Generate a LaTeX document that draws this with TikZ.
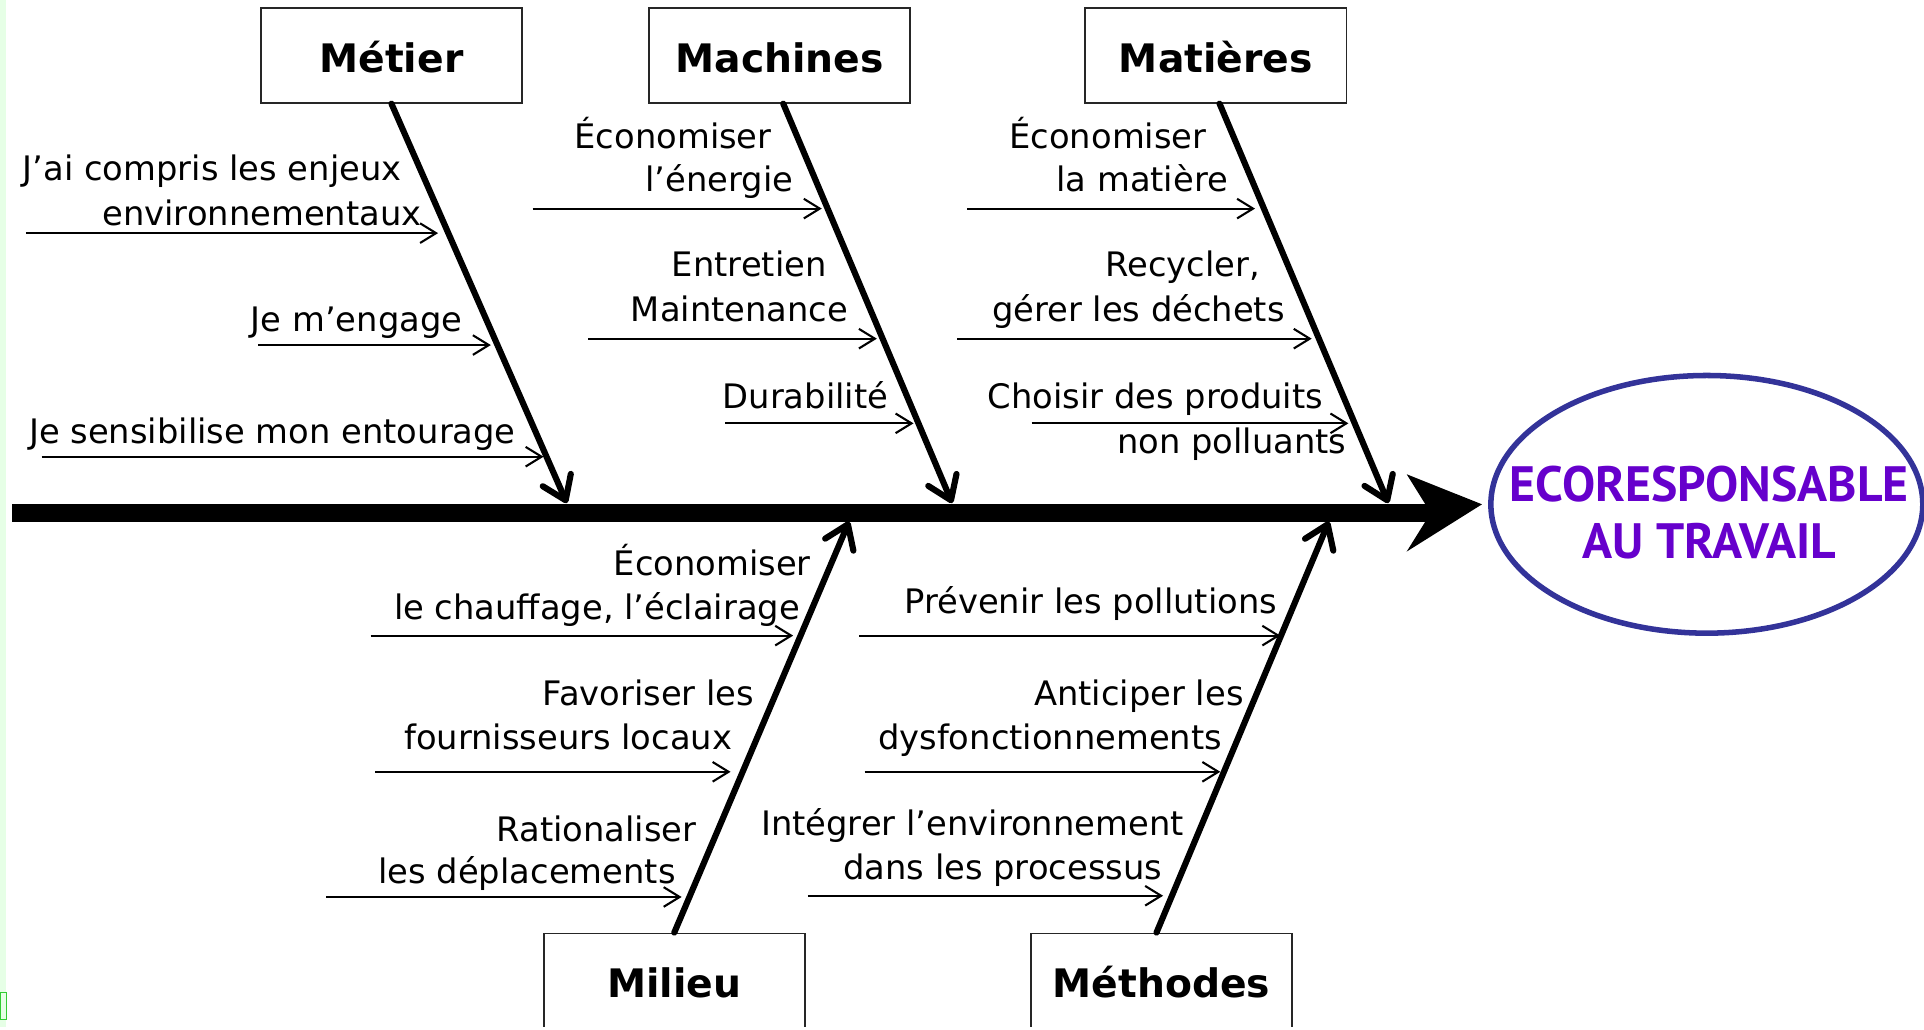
\documentclass[tikz,border=0pt]{standalone}
\usepackage{fontspec}
\setmainfont{DejaVu Sans}
\newfontfamily\ptsans{PT Sans}
\usetikzlibrary{arrows.meta,shapes.geometric}
\definecolor{ellblue}{HTML}{333399}
\definecolor{ecopurple}{HTML}{6600CC}
\definecolor{stripgreen}{HTML}{E6FFE6}
\definecolor{markgreen}{HTML}{33CC33}
\begin{document}
\begin{tikzpicture}[x=1pt,y=-1pt,
  lbl/.style={anchor=base east, inner sep=0pt, font=\fontsize{27.5}{33}\selectfont},
  catbox/.style={draw=black!85, line width=1.5pt, minimum width=213pt, minimum height=77pt,
    inner sep=0pt, text height=28pt, text depth=0pt, font=\fontsize{32}{38}\selectfont\bfseries},
  bone/.style={line width=5pt, line cap=round, -{Straight Barb[length=18pt,width=25pt,round]}},
  sub/.style={line width=1.7pt, -{Straight Barb[length=13pt,width=16pt]}},
  ecotext/.style={anchor=base, inner sep=0pt, text=ecopurple, font=\fontsize{40.5}{47}\ptsans\bfseries}]
\useasboundingbox (0,0) rectangle (1568,838.6);
\clip (0,0) rectangle (1568,836.5);
% left margin strip
\fill[stripgreen] (0,0) rectangle (5,838.6);
\draw[markgreen, line width=1pt] (0.5,809) rectangle (5,831);

% category boxes
\node[catbox] (metier) at (319,45.2) {Métier};
\node[catbox] (machines) at (635.3,45.2) {Machines};
\node[catbox] (matieres) at (990.9,45.2) {Matières};
\node[catbox] (milieu) at (549.5,799.3) {Milieu};
\node[catbox] (methodes) at (946.5,799.3) {Méthodes};

% goal
\node[ellipse, draw=ellblue, line width=4.5pt, minimum width=352pt, minimum height=210pt, inner sep=0pt] (goal) at (1391,411) {};
\node[ecotext] (eco1) at (1393,409) {ECORESPONSABLE};
\node[ecotext] (eco2) at (1393,455) {AU TRAVAIL};

% spine
\coordinate (spL) at (10,418);
\coordinate (notch) at (1166,418);
\coordinate (hbT) at (1146.4,386.5);
\coordinate (hbB) at (1146.4,449.5);
\coordinate (htip) at ([xshift=-5pt]goal.west);
\draw[line width=14pt] (spL) -- (notch);
\fill (hbT) -- (htip) -- (hbB) -- (notch) -- cycle;

% bones
\coordinate (metTip) at (462,410);
\coordinate (macTip) at (776,410);
\coordinate (matTip) at (1131.5,410);
\coordinate (milTip) at (692,425);
\coordinate (metoTip) at (1083,425);
\draw[bone] (metier.south) -- (metTip);
\draw[bone] ([xshift=3pt]machines.south) -- (macTip);
\draw[bone] ([xshift=3pt]matieres.south) -- (matTip);
\draw[bone] (milieu.north) -- (milTip);
\draw[bone] ([xshift=-4pt]methodes.north) -- (metoTip);

% Métier causes
\node[lbl] (t1a) at (327.4,146.7) {J’ai compris les enjeux};
\node[lbl] (t1b) at (343.7,183.4) {environnementaux};
\coordinate (a1s) at (21,190); \coordinate (a1e) at (357,190);
\draw[sub] (a1s) -- (a1e);
\node[lbl] (t2) at (377,270.3) {Je m’engage};
\coordinate (a2s) at (210.5,281.2); \coordinate (a2e) at (400,281.2);
\draw[sub] (a2s) -- (a2e);
\node[lbl] (t3) at (420.5,361.3) {Je sensibilise mon entourage};
\coordinate (a3s) at (34,372.2); \coordinate (a3e) at (443,372.2);
\draw[sub] (a3s) -- (a3e);

% Machines causes
\node[lbl] (t4a) at (629,121) {Économiser};
\node[lbl] (t4b) at (646.6,156) {l’énergie};
\coordinate (a4s) at (434,170); \coordinate (a4e) at (669.7,170);
\draw[sub] (a4s) -- (a4e);
\node[lbl] (t5a) at (673.8,225.5) {Entretien};
\node[lbl] (t5b) at (691.5,262) {Maintenance};
\coordinate (a5s) at (479.5,276); \coordinate (a5e) at (714.6,276);
\draw[sub] (a5s) -- (a5e);
\node[lbl] (t6) at (724,333) {Durabilité};
\coordinate (a6s) at (591,345); \coordinate (a6e) at (744.5,345);
\draw[sub] (a6s) -- (a6e);

% Matières causes
\node[lbl] (t7a) at (983.4,121) {Économiser};
\node[lbl] (t7b) at (1001,156) {la matière};
\coordinate (a7s) at (788.3,170); \coordinate (a7e) at (1022.8,170);
\draw[sub] (a7s) -- (a7e);
\node[lbl] (t8a) at (1026.9,225.5) {Recycler,};
\node[lbl] (t8b) at (1047.3,262) {gérer les déchets};
\coordinate (a8s) at (780,276); \coordinate (a8e) at (1069,276);
\draw[sub] (a8s) -- (a8e);
\node[lbl] (t9a) at (1078.5,333) {Choisir des produits};
\node[lbl] (t9b) at (1097.5,369.6) {non polluants};
\coordinate (a9s) at (840.7,345); \coordinate (a9e) at (1098.9,345);
\draw[sub] (a9s) -- (a9e);

% Milieu causes
\node[lbl] (t10a) at (660.9,468.6) {Économiser};
\node[lbl] (t10b) at (652.2,505) {le chauffage, l’éclairage};
\coordinate (a10s) at (302,518); \coordinate (a10e) at (646.4,518);
\draw[sub] (a10s) -- (a10e);
\node[lbl] (t11a) at (614.9,574.6) {Favoriser les};
\node[lbl] (t11b) at (596.9,611) {fournisseurs locaux};
\coordinate (a11s) at (305.7,629); \coordinate (a11e) at (595.4,629);
\draw[sub] (a11s) -- (a11e);
\node[lbl] (t12a) at (567.7,686) {Rationaliser};
\node[lbl] (t12b) at (550.8,720) {les déplacements};
\coordinate (a12s) at (265.8,731); \coordinate (a12e) at (555.5,731);
\draw[sub] (a12s) -- (a12e);

% Méthodes causes
\node[lbl] (t13) at (1041,500) {Prévenir les pollutions};
\coordinate (a13s) at (700.3,518); \coordinate (a13e) at (1043.4,518);
\draw[sub] (a13s) -- (a13e);
\node[lbl] (t14a) at (1013.7,574.6) {Anticiper les};
\node[lbl] (t14b) at (996.2,611) {dysfonctionnements};
\coordinate (a14s) at (704.7,629); \coordinate (a14e) at (994.5,629);
\draw[sub] (a14s) -- (a14e);
\node[lbl] (t15a) at (964.8,680.6) {Intégrer l’environnement};
\node[lbl] (t15b) at (947.3,717) {dans les processus};
\coordinate (a15s) at (658.4,730); \coordinate (a15e) at (947.9,730);
\draw[sub] (a15s) -- (a15e);
\end{tikzpicture}
\end{document}
